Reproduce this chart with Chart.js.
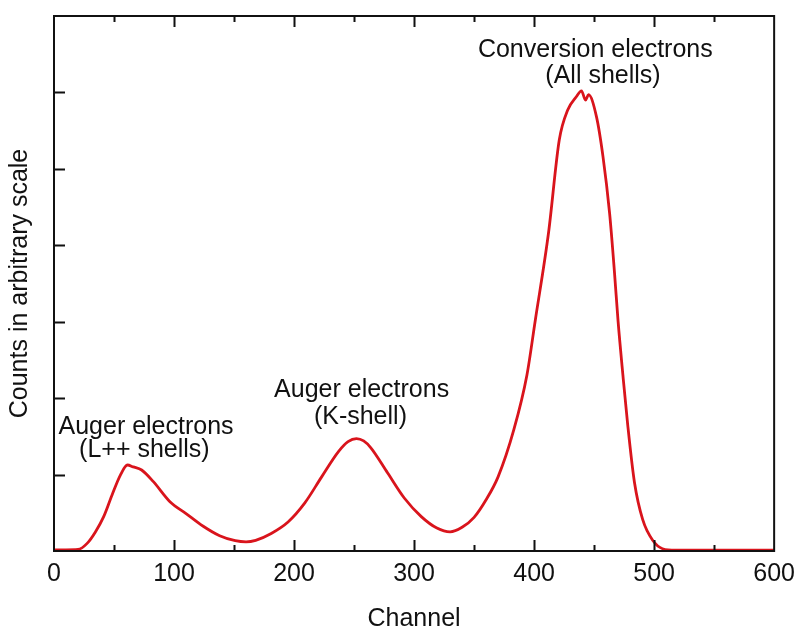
<!DOCTYPE html>
<html>
<head>
<meta charset="utf-8">
<title>Electron spectrum</title>
<script src="https://cdn.jsdelivr.net/npm/chart.js@4/dist/chart.umd.min.js"></script>
<style>
  body { margin: 0; background: #fff; }
  #wrap { width: 803px; height: 630px; }
</style>
</head>
<body>
<div id="wrap"><canvas id="spectrumChart" width="803" height="630"></canvas></div>
<script>
// Spectrum readings (channel, counts in arbitrary units)
const channels = [
  0, 10, 20, 27.6, 34.5, 41.4, 48.3, 55.2, 61.2, 66, 73, 82.8, 96.6, 110, 124,
  138, 151, 160, 168, 181, 195, 209, 223, 237, 245, 252, 258, 264, 278, 292,
  306, 319, 330, 340, 350, 360, 370, 383, 394, 401, 412, 421, 428,
  435, 439.5, 442.8, 445.3, 452, 457.4, 462.9, 467, 470, 474, 478, 483.6,
  490.5, 498.8, 507, 518, 560, 600,
];
const counts = [
  0.015, 0.015, 0.02, 0.1, 0.25, 0.45, 0.73, 0.99, 1.125, 1.1, 1.06, 0.907,
  0.645, 0.49, 0.327, 0.2, 0.135, 0.12, 0.14, 0.23, 0.38, 0.63, 0.97, 1.3,
  1.43, 1.47, 1.44, 1.35, 1.02, 0.69, 0.45, 0.3, 0.25, 0.31, 0.44, 0.67, 0.97,
  1.58, 2.3, 3.02, 4.16, 5.38, 5.77, 5.94, 6.02, 5.9, 5.97, 5.68, 5.16,
  4.42, 3.64, 3.0, 2.3, 1.65, 0.9, 0.41, 0.14, 0.03, 0.01, 0.01, 0.01,
];

// Axis setup
const xMin = 0;
const xMax = 600;
const xLabelStep = 100;
const xMinorStep = 50;
const yMin = 0;
const yMax = 7;
const yTickValues = [1, 2, 3, 4, 5, 6];

// Peak labels, anchored in data units (channel, counts) at the text baseline
const peakLabelText = [
  "Auger electrons", "(L++ shells)",
  "Auger electrons", "(K-shell)",
  "Conversion electrons", "(All shells)",
];
const peakLabelChannel = [76.7, 75.3, 256.3, 255.3, 451.0, 457.4];
const peakLabelCounts = [1.53, 1.23, 2.01, 1.66, 6.46, 6.12];

const lineColor = "#d9141c";
const inkColor = "#111111";
const fontFamily = "'Liberation Sans', Arial, Helvetica, sans-serif";

// Box frame with inward tick marks, like the original plotting program
const frameTicks = {
  id: "frameTicks",
  afterDatasetsDraw(chart) {
    const { ctx, chartArea: area, scales } = chart;
    const x = scales.x;
    const y = scales.y;
    ctx.save();
    ctx.strokeStyle = inkColor;
    ctx.lineWidth = 2;
    ctx.strokeRect(area.left, area.top, area.right - area.left, area.bottom - area.top);

    ctx.beginPath();
    for (let v = xMin + xMinorStep; v < xMax; v += xMinorStep) {
      const px = Math.round(x.getPixelForValue(v)) + 0.5;
      const len = v % xLabelStep === 0 ? 11 : 6;
      ctx.moveTo(px, area.bottom);
      ctx.lineTo(px, area.bottom - len);
      ctx.moveTo(px, area.top);
      ctx.lineTo(px, area.top + len);
    }
    yTickValues.forEach((v) => {
      const py = Math.round(y.getPixelForValue(v)) + 0.5;
      ctx.moveTo(area.left, py);
      ctx.lineTo(area.left + 11, py);
    });
    ctx.stroke();
    ctx.restore();
  },
};

// Peak annotations
const peakLabels = {
  id: "peakLabels",
  afterDraw(chart) {
    const { ctx, scales } = chart;
    ctx.save();
    ctx.fillStyle = inkColor;
    ctx.font = "25px " + fontFamily;
    ctx.textAlign = "center";
    ctx.textBaseline = "alphabetic";
    peakLabelText.forEach((text, i) => {
      const px = scales.x.getPixelForValue(peakLabelChannel[i]);
      const py = scales.y.getPixelForValue(peakLabelCounts[i]);
      ctx.fillText(text, px, py);
    });
    ctx.restore();
  },
};

document.addEventListener("DOMContentLoaded", function () {
  const ctx = document.getElementById("spectrumChart").getContext("2d");

  new Chart(ctx, {
    type: "line",
    data: {
      datasets: [
        {
          label: "Counts",
          data: channels.map((c, i) => ({ x: c, y: counts[i] })),
          borderColor: lineColor,
          borderWidth: 2.8,
          pointRadius: 0,
          fill: false,
          cubicInterpolationMode: "monotone",
        },
      ],
    },
    options: {
      responsive: false,
      animation: false,
      layout: {
        padding: { top: 16, right: 24, left: 0, bottom: 0 },
      },
      plugins: {
        legend: { display: false },
        tooltip: { enabled: false },
      },
      scales: {
        x: {
          type: "linear",
          min: xMin,
          max: xMax,
          afterFit: (scale) => {
            scale.height = 79;
          },
          grid: { display: false, drawTicks: false },
          border: { display: false },
          ticks: {
            stepSize: xLabelStep,
            padding: 8,
            color: inkColor,
            font: { family: fontFamily, size: 25 },
            maxRotation: 0,
          },
          title: {
            display: true,
            text: "Channel",
            color: inkColor,
            font: { family: fontFamily, size: 25, lineHeight: 1 },
            padding: { top: 0, bottom: -2 },
          },
        },
        y: {
          type: "linear",
          min: yMin,
          max: yMax,
          afterFit: (scale) => {
            scale.width = 54;
          },
          grid: { display: false, drawTicks: false },
          border: { display: false },
          ticks: { display: false },
          title: {
            display: true,
            text: "Counts in arbitrary scale",
            color: inkColor,
            font: { family: fontFamily, size: 25, lineHeight: 1 },
            padding: { top: 8, bottom: 0 },
          },
        },
      },
    },
    plugins: [frameTicks, peakLabels],
  });
});
</script>
</body>
</html>
